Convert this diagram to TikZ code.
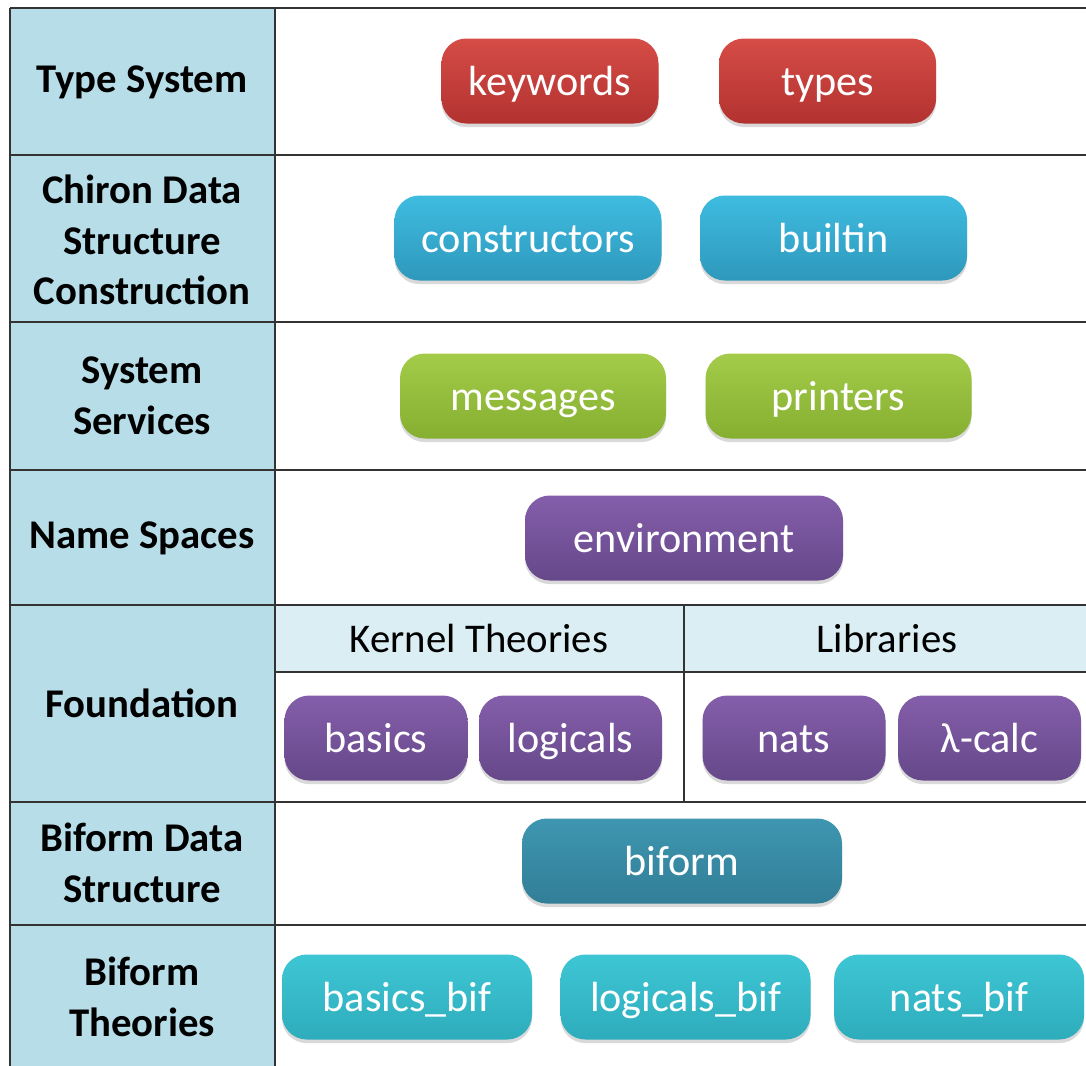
\documentclass[tikz,border=0pt]{standalone}
\usepackage{fontspec}
\setmainfont{Carlito}
\usetikzlibrary{positioning, shadows}

\definecolor{rowblue}{RGB}{183,221,232}
\definecolor{headblue}{RGB}{218,238,243}
\definecolor{redtop}{RGB}{214,76,70}
\definecolor{redbot}{RGB}{178,50,48}
\definecolor{cyantop}{RGB}{62,188,224}
\definecolor{cyanbot}{RGB}{46,152,188}
\definecolor{greentop}{RGB}{164,204,74}
\definecolor{greenbot}{RGB}{134,174,48}
\definecolor{purptop}{RGB}{132,94,170}
\definecolor{purpbot}{RGB}{102,72,138}
\definecolor{tealtop}{RGB}{62,150,176}
\definecolor{tealbot}{RGB}{50,126,152}
\definecolor{aquatop}{RGB}{62,198,212}
\definecolor{aquabot}{RGB}{46,172,188}

\newcommand\pxu{0.025cm}
\newcommand\layerfont{\bfseries\fontsize{29}{36}\selectfont}
\newcommand\headfont{\fontsize{29}{34}\selectfont}
\newcommand\pillfont{\fontsize{30}{36}\selectfont}

\begin{document}
\begin{tikzpicture}[
        x=\pxu, y=-\pxu,
        rule/.style={draw=black!80, line width=1.1pt},
        layer/.style={align=center, font=\layerfont},
        head/.style={font=\headfont},
        pill/.style={rectangle, rounded corners=0.62cm, minimum height=85*\pxu,
          text=white, font=\pillfont, text height=21pt, text depth=1pt,
          drop shadow={shadow xshift=0pt, shadow yshift=-0.09cm, opacity=0.3}},
        redpill/.style={pill, top color=redtop, bottom color=redbot},
        cyanpill/.style={pill, top color=cyantop, bottom color=cyanbot},
        greenpill/.style={pill, top color=greentop, bottom color=greenbot},
        purppill/.style={pill, top color=purptop, bottom color=purpbot},
        tealpill/.style={pill, top color=tealtop, bottom color=tealbot},
        aquapill/.style={pill, top color=aquatop, bottom color=aquabot}
        ]

        \useasboundingbox (0,0) rectangle (1086,1066);

        % table cells
        \fill[rowblue] (10,8) rectangle (275,1066);
        \fill[headblue] (275,605) rectangle (1086,672);
        \foreach \y in {8,155,322,470,605,802,925}
          \draw[rule] (10,\y) -- (1086,\y);
        \draw[rule] (275,672) -- (1086,672);
        \draw[rule] (10,8) -- (10,1066);
        \draw[rule] (275,8) -- (275,1066);
        \draw[rule] (684,605) -- (684,802);

        % layer names
        \node[layer] (lType)   at (142,82)  {Type System};
        \node[layer] (lChiron) at (142,240) {Chiron Data\\Structure\\Construction};
        \node[layer] (lServ)   at (142,396) {System\\Services};
        \node[layer] (lName)   at (142,538) {Name Spaces};
        \node[layer] (lFound)  at (142,703) {Foundation};
        \node[layer] (lBiData) at (142,863) {Biform Data\\Structure};
        \node[layer] (lBiTh)   at (142,997) {Biform\\Theories};

        \node[head] (hKernel) at (479,638) {Kernel Theories};
        \node[head] (hLib)    at (887,638) {Libraries};

        % modules
        \node[redpill, minimum width=217*\pxu] (kw) at (550,81) {keywords};
        \node[redpill, minimum width=217*\pxu] (types) [right=1.5cm of kw] {types};

        \node[cyanpill, minimum width=267*\pxu] (ctor) at (528,238) {constructors};
        \node[cyanpill, minimum width=267*\pxu] (builtin) [right=0.95cm of ctor] {builtin};

        \node[greenpill, minimum width=266*\pxu] (msgs) at (533,396) {messages};
        \node[greenpill, minimum width=266*\pxu] (printers) [right=0.975cm of msgs] {printers};

        \node[purppill, minimum width=318*\pxu] (env) at (684,538) {environment};

        \node[purppill, minimum width=183*\pxu] (basics) at (376,738) {basics};
        \node[purppill, minimum width=183*\pxu] (logicals) [right=0.275cm of basics] {logicals};
        \node[purppill, minimum width=183*\pxu] (nats) at (794,738) {nats};
        \node[purppill, minimum width=183*\pxu] (lcalc) [right=0.3cm of nats] {λ-calc};

        \node[tealpill, minimum width=320*\pxu] (biform) at (682,861) {biform};

        \node[aquapill, minimum width=250*\pxu] (basicsbif) at (407,997) {basics\_bif};
        \node[aquapill, minimum width=250*\pxu] (logicalsbif) [right=0.7cm of basicsbif] {logicals\_bif};
        \node[aquapill, minimum width=250*\pxu] (natsbif) [right=0.575cm of logicalsbif] {nats\_bif};
\end{tikzpicture}
\end{document}
